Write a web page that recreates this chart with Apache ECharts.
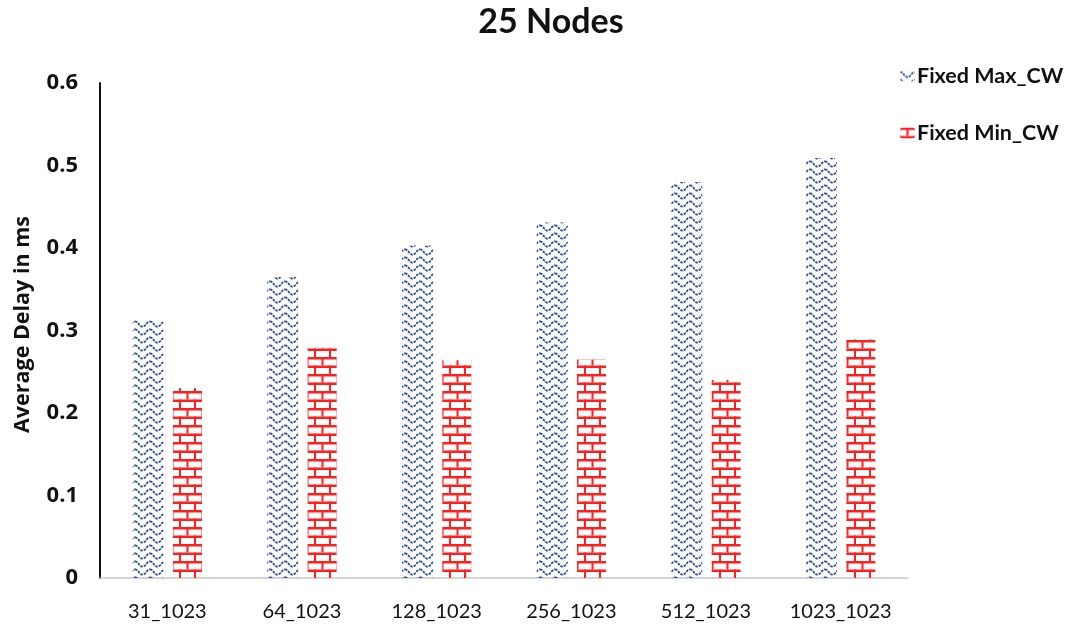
<!DOCTYPE html>
<html>
<head>
<meta charset="utf-8">
<script src="https://cdn.jsdelivr.net/npm/echarts@6/dist/echarts.min.js"></script>
<style>
html,body{margin:0;padding:0;background:#fff;}
#chart{width:1067px;height:627px;}
</style>
</head>
<body>
<div id="chart"></div>
<script>
var categories = ['31_1023','64_1023','128_1023','256_1023','512_1023','1023_1023'];
var maxCW = [0.312, 0.365, 0.403, 0.431, 0.480, 0.509];
var minCW = [0.230, 0.279, 0.264, 0.265, 0.240, 0.289];
var yTicks = [0, 0.1, 0.2, 0.3, 0.4, 0.5, 0.6];

function wavePattern(){
  var c = document.createElement('canvas');
  c.width = 15; c.height = 8;
  var g = c.getContext('2d');
  g.strokeStyle = '#2f4e90';
  g.lineWidth = 1.8;
  g.setLineDash([2.6, 1]);
  g.beginPath();
  for (var x = 0; x <= 15; x += 0.5) {
    var y = 4 - 2.7 * Math.cos(x / 15 * 2 * Math.PI);
    if (x === 0) g.moveTo(x, y); else g.lineTo(x, y);
  }
  g.stroke();
  return c;
}
function brickPattern(){
  var c = document.createElement('canvas');
  c.width = 15; c.height = 17;
  var g = c.getContext('2d');
  g.fillStyle = '#ff1f1f';
  g.fillRect(0, 0, 15, 2.5);
  g.fillRect(0, 8.5, 15, 2.5);
  g.fillRect(6.5, 0, 2, 8.5);
  g.fillRect(0, 8.5, 1, 8.5);
  g.fillRect(14, 8.5, 1, 8.5);
  return c;
}

var chart = echarts.init(document.getElementById('chart'));
chart.setOption({
  backgroundColor: '#ffffff',
  animation: false,
  title: {
    text: '25 Nodes',
    left: 546, top: 0, textAlign: 'center',
    textStyle: {fontFamily: 'Lato', fontWeight: 'bold', fontSize: 34, color: '#111'}
  },
  legend: {
    orient: 'vertical',
    left: 895, top: 60,
    itemWidth: 15, itemHeight: 11,
    itemGap: 35,
    textStyle: {fontFamily: 'Lato', fontWeight: 'bold', fontSize: 21.5, color: '#111', padding: [0, 0, 0, -3]},
    data: ['Fixed Max_CW', 'Fixed Min_CW']
  },
  grid: {left: 100, right: 159, top: 83, bottom: 49, containLabel: false},
  xAxis: {
    type: 'category',
    data: categories,
    axisLine: {lineStyle: {color: '#c8c8c8', width: 1.5}},
    axisTick: {show: false},
    axisLabel: {margin: 24, fontFamily: 'Lato', fontSize: 20, color: '#111'}
  },
  yAxis: {
    type: 'value',
    min: 0, max: 0.6, interval: 0.1,
    axisLine: {show: true, lineStyle: {color: '#111', width: 2}},
    axisTick: {show: false},
    splitLine: {show: false},
    axisLabel: {
      margin: 22, fontFamily: 'Open Sans', fontWeight: 'bold', fontSize: 22, color: '#111',
      formatter: function(v){ var t = yTicks.filter(function(k){return Math.abs(k-v)<1e-9;}); return t.length ? String(t[0]) : ''; }
    }
  },
  graphic: [{
    type: 'text',
    left: 12, top: 216,
    rotation: Math.PI / 2,
    style: {text: 'Average Delay in ms', fontFamily: 'Open Sans', fontWeight: 'bold', fontSize: 21.5, fill: '#111'}
  }],
  series: [
    {
      name: 'Fixed Max_CW', type: 'bar', data: maxCW,
      barWidth: 31, barGap: '30%',
      itemStyle: {color: {image: wavePattern(), repeat: 'repeat'}}
    },
    {
      name: 'Fixed Min_CW', type: 'bar', data: minCW,
      barWidth: 29,
      itemStyle: {color: {image: brickPattern(), repeat: 'repeat'}}
    }
  ]
});
</script>
</body>
</html>
